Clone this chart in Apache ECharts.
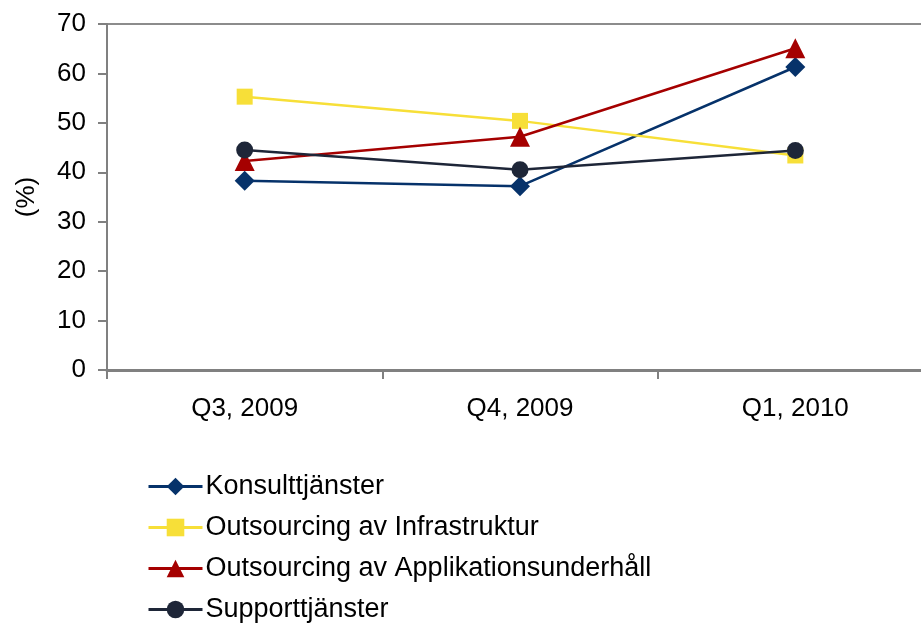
<!DOCTYPE html>
<html><head><meta charset="utf-8">
<script src="https://cdn.jsdelivr.net/npm/echarts@6/dist/echarts.min.js"></script>
<style>html,body{margin:0;padding:0;background:#fff}#c{width:921px;height:625px}</style>
</head><body><div id="c"></div>
<script>
const categories = ['Q3, 2009', 'Q4, 2009', 'Q1, 2010'];
const yTicks = [0, 10, 20, 30, 40, 50, 60, 70];
const konsult = [38.3, 37.2, 61.3];
const infra = [55.3, 50.4, 43.4];
const applik = [42.3, 47.2, 65.1];
const support = [44.5, 40.5, 44.4];
const names = ['Konsulttjänster', 'Outsourcing av Infrastruktur', 'Outsourcing av Applikationsunderhåll', 'Supporttjänster'];

const font = 'Liberation Sans, Arial, sans-serif';
function ser(name, data, color, symbol, size) {
  return {
    name, type: 'line', data, symbol, symbolSize: size,
    lineStyle: { color, width: 2.5 }, itemStyle: { color },
    emphasis: { disabled: true }, animation: false
  };
}
const chart = echarts.init(document.getElementById('c'));
chart.setOption({
  animation: false,
  grid: { left: 107, top: 24, width: 826, height: 346, outerBoundsMode: 'none', containLabel: false, show: true, borderColor: '#8c8c8c', borderWidth: 2, backgroundColor: 'transparent' },
  xAxis: {
    type: 'category', data: categories, boundaryGap: true,
    axisLine: { lineStyle: { color: '#808080', width: 3 } },
    axisTick: { show: true, length: 9, lineStyle: { color: '#808080', width: 2 } },
    axisLabel: { color: '#000', fontSize: 26, fontFamily: font, margin: 26 }
  },
  yAxis: {
    type: 'value', min: yTicks[0], max: yTicks[yTicks.length - 1], interval: 10,
    name: '(%)', nameLocation: 'middle', nameGap: 67, nameRotate: 90,
    nameTextStyle: { color: '#000', fontSize: 26, fontFamily: font },
    axisLine: { show: true, lineStyle: { color: '#808080', width: 2 } },
    axisTick: { show: true, length: 9, lineStyle: { color: '#808080', width: 2 } },
    axisLabel: { color: '#000', fontSize: 26, fontFamily: font, margin: 21 },
    splitLine: { show: false }
  },
  legend: {
    orient: 'vertical', left: 142, top: 468, height: 200, itemGap: 14, itemWidth: 54, itemHeight: 22,
    lineStyle: { width: 3 },
    textStyle: { color: '#000', fontSize: 27, fontFamily: font, padding: [0, 0, 0, -2] },
    data: names
  },
  series: [
    ser(names[0], konsult, '#06326a', 'diamond', 20),
    ser(names[1], infra, '#f7df38', 'rect', 16),
    ser(names[2], applik, '#a50000', 'triangle', 20),
    ser(names[3], support, '#1e2638', 'circle', 17)
  ]
});
</script></body></html>
